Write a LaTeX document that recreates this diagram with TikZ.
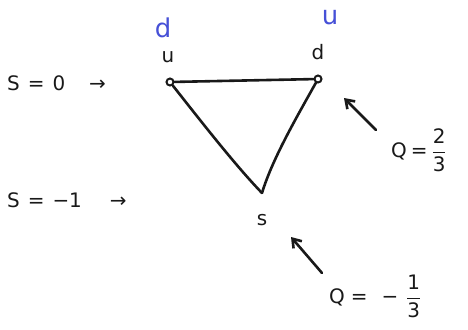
\documentclass[tikz,border=0pt]{standalone}
\usepackage{fontspec}
\setmainfont{DejaVu Sans}
\usetikzlibrary{arrows.meta}
\definecolor{pen}{RGB}{25,25,25}
\definecolor{bluepen}{RGB}{70,80,215}
\newcommand{\vfr}[2]{\ensuremath{\displaystyle\frac{\mbox{#1}}{\mbox{#2}}}}
\tikzset{
  stroke/.style={draw=pen, line width=2.6bp, line cap=round, line join=round},
  vert/.style={circle, draw=pen, line width=2bp, inner sep=0pt, minimum size=7bp},
  lbl/.style={text=pen, font=\fontsize{20}{23}\selectfont, inner sep=1bp},
  bluelbl/.style={text=bluepen, font=\fontsize{26}{28}\selectfont, inner sep=1bp},
  qarrow/.style={stroke, -{Straight Barb[length=8bp, width=11bp, line width=2.6bp]}}
}
\begin{document}
\begin{tikzpicture}[x=1bp,y=-1bp]
\useasboundingbox[fill=white] (0,0) rectangle (468,329);
% vertices
\node[vert] (u) at (170,82) {};
\node[vert] (d) at (318,79) {};
\coordinate (s) at (262,193);
% triangle
\draw[stroke] (u) -- (d);
\draw[stroke] (d) .. controls (295,120) and (272,160) .. (s);
\draw[stroke] (u) .. controls (200,120) and (235,165) .. (s);
% vertex labels
\node[lbl] (ulbl) at (168,57) {u};
\node[bluelbl] (dblue) at (163,28) {d};
\node[lbl] (dlbl) at (318,52) {d};
\node[bluelbl] (ublue) at (330,17) {u};
\node[lbl] (slbl) at (262,220) {s};
% strangeness rows
\node[lbl, anchor=west] (s0) at (6,83) {S\hspace{8bp}=\hspace{8bp}0\hspace{24bp}→};
\node[lbl, anchor=west] (s1) at (6,200) {S\hspace{8bp}=\hspace{8bp}−1\hspace{28bp}→};
% charge labels
\node[lbl, anchor=west] (q1) at (390,150) {Q\hspace{4bp}=\hspace{4bp}\vfr{2}{3}};
\node[lbl, anchor=west] (q2) at (328,296) {Q\hspace{6bp}=\hspace{14bp}−\hspace{8bp}\vfr{1}{3}};
\coordinate (q1tail) at (376,130);
\coordinate (q1head) at (344,98);
\coordinate (q2tail) at (322,273);
\coordinate (q2head) at (291,237);
\draw[qarrow] (q1tail) -- (q1head);
\draw[qarrow] (q2tail) -- (q2head);
\end{tikzpicture}
\end{document}
